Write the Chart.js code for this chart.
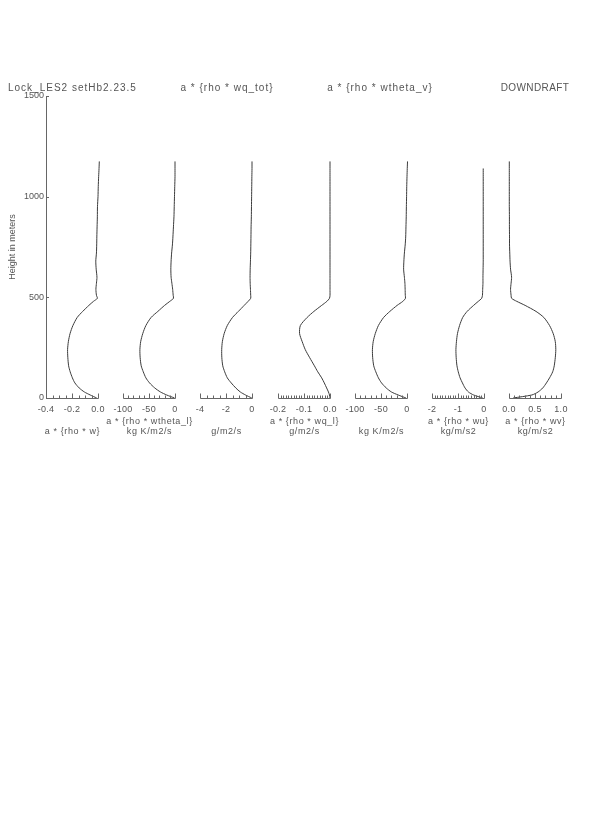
<!DOCTYPE html>
<html>
<head>
<meta charset="utf-8">
<script src="https://cdn.jsdelivr.net/npm/chart.js@4.4.1/dist/chart.umd.min.js"></script>
<style>
  html, body { margin: 0; padding: 0; background: #fff; }
</style>
</head>
<body>
<canvas id="profiles" width="595" height="833"></canvas>
<script>
// heights (m) shared by every profile
const heights = [0, 15, 30, 50, 75, 100, 130, 160, 200, 240, 280, 320, 360, 400, 430, 460, 480, 495,
  510, 540, 570, 600, 640, 680, 720, 760, 800, 850, 900, 950, 1000, 1050, 1100, 1140, 1175];

// downdraft flux profiles
const rhoW = [-0.010, -0.060, -0.105, -0.145, -0.178, -0.197, -0.214, -0.226, -0.232, -0.234, -0.228, -0.215,
  -0.193, -0.160, -0.118, -0.070, -0.035, -0.005, -0.012, -0.016, -0.012, -0.008, -0.014, -0.017, -0.012,
  -0.010, -0.009, -0.007, -0.005, -0.004, 0.000, 0.002, 0.005, 0.008, 0.010];
const rhoWthetaL = [-1, -16, -28, -39, -49, -56, -61, -65, -67, -67.5, -66, -62, -56, -46, -33, -20, -10, -3,
  -3.5, -4.5, -6, -7.5, -8, -7.5, -6.5, -5, -4, -3, -2, -1.5, -1, -0.5, 0, 0, 0];
const rhoWqTot = [-0.02, -0.5, -0.9, -1.25, -1.6, -1.9, -2.1, -2.25, -2.32, -2.33, -2.28, -2.14, -1.9, -1.5,
  -1.05, -0.6, -0.3, -0.1, -0.1, -0.12, -0.14, -0.15, -0.14, -0.12, -0.1, -0.09, -0.08, -0.07, -0.05, -0.04,
  -0.03, -0.02, -0.01, 0, 0];
const rhoWqL = [0, -0.002, -0.006, -0.013, -0.022, -0.032, -0.047, -0.060, -0.078, -0.095, -0.107, -0.117,
  -0.114, -0.088, -0.062, -0.032, -0.012, -0.002, 0, 0, 0, 0, 0, 0, 0, 0, 0, 0, 0, 0, 0, 0, 0, 0, 0];
const rhoWthetaV = [-2, -17, -30, -40, -49, -55, -60, -64, -66, -66.5, -65, -61, -55, -45, -33, -19, -8, -3,
  -3.3, -3.6, -4, -5, -6.5, -6, -5, -3.5, -2.5, -2, -1.5, -1.2, -0.8, -0.5, 0, 0.5, 1];
const rhoWu = [-0.05, -0.40, -0.60, -0.73, -0.83, -0.92, -0.99, -1.04, -1.07, -1.08, -1.06, -1.02, -0.94,
  -0.82, -0.65, -0.40, -0.22, -0.09, -0.06, -0.05, -0.04, -0.04, -0.035, -0.03, -0.03, -0.03, -0.03, -0.03,
  -0.03, -0.03, -0.03, -0.03, -0.03, -0.03, null];
const rhoWv = [0.08, 0.44, 0.56, 0.65, 0.72, 0.78, 0.84, 0.87, 0.89, 0.90, 0.89, 0.85, 0.78, 0.67, 0.52,
  0.31, 0.15, 0.05, 0.04, 0.03, 0.04, 0.05, 0.03, 0.02, 0.015, 0.01, 0.01, 0.008, 0.008, 0.006, 0.006,
  0.006, 0.006, 0.006, 0.006];

// x tick values / labels for each panel
const ticksW = [-0.4, -0.2, 0.0];
const ticksWthetaL = [-100, -50, 0];
const ticksWqTot = [-4, -2, 0];
const ticksWqL = [-0.2, -0.1, 0.0];
const ticksWthetaV = [-100, -50, 0];
const ticksWu = [-2, -1, 0];
const ticksWv = [0.0, 0.5, 1.0];
const labelsW = ['-0.4', '-0.2', '0.0'];
const labelsWthetaL = ['-100', '-50', '0'];
const labelsWqTot = ['-4', '-2', '0'];
const labelsWqL = ['-0.2', '-0.1', '0.0'];
const labelsWthetaV = ['-100', '-50', '0'];
const labelsWu = ['-2', '-1', '0'];
const labelsWv = ['0.0', '0.5', '1.0'];
const yTicks = [0, 500, 1000, 1500];

const panels = [
  { values: rhoW, ticks: ticksW, labels: labelsW, minor: 0.05, caption: ['', 'a * {rho * w}'] },
  { values: rhoWthetaL, ticks: ticksWthetaL, labels: labelsWthetaL, minor: 10, caption: ['a * {rho * wtheta_l}', 'kg K/m2/s'] },
  { values: rhoWqTot, ticks: ticksWqTot, labels: labelsWqTot, minor: 0.5, caption: ['', 'g/m2/s'] },
  { values: rhoWqL, ticks: ticksWqL, labels: labelsWqL, minor: 0.01, caption: ['a * {rho * wq_l}', 'g/m2/s'] },
  { values: rhoWthetaV, ticks: ticksWthetaV, labels: labelsWthetaV, minor: 10, caption: ['', 'kg K/m2/s'] },
  { values: rhoWu, ticks: ticksWu, labels: labelsWu, minor: 0.1, caption: ['a * {rho * wu}', 'kg/m/s2'] },
  { values: rhoWv, ticks: ticksWv, labels: labelsWv, minor: 0.1, caption: ['a * {rho * wv}', 'kg/m/s2'] }
];

// layout (px, relative to the plot area)
const areaWidth = 515;
const panelWidth = 52;
const panelPitch = 77.2;
const lineColor = '#3a3a3a';
const axisColor = '#666';
const textColor = '#555';
const fontFamily = '"Liberation Sans", Arial, sans-serif';

const scales = {
  y: {
    type: 'linear', position: 'left', min: 0, max: 1500,
    afterFit: s => { s.width = 46; },
    afterBuildTicks: s => { s.ticks = yTicks.map(v => ({ value: v })); },
    ticks: { color: textColor, font: { family: fontFamily, size: 9 }, padding: 2, callback: v => String(v) },
    grid: { display: false, drawTicks: false, tickLength: 0 },
    border: { display: true, color: axisColor, width: 1 },
    title: { display: true, text: 'Height in meters', color: textColor,
      font: { family: fontFamily, size: 9 }, padding: { top: 7, bottom: 0 } }
  }
};

panels.forEach((p, i) => {
  const a = p.ticks[0], b = p.ticks[p.ticks.length - 1];
  const per = (b - a) / panelWidth;
  const off = Math.round(i * panelPitch);
  scales['x' + i] = {
    type: 'linear', position: 'bottom', display: false,
    min: a - off * per,
    max: b + (areaWidth - off - panelWidth) * per
  };
});

const datasets = panels.map((p, i) => ({
  xAxisID: 'x' + i,
  yAxisID: 'y',
  data: heights.map((h, j) => ({ x: p.values[j], y: h })).filter(d => d.x !== null),
  borderColor: lineColor,
  borderWidth: 1,
  pointRadius: 0,
  tension: 0.25,
  fill: false
}));

const panelAxes = {
  id: 'panelAxes',
  afterDatasetsDraw(chart) {
    const ctx = chart.ctx;
    const area = chart.chartArea;
    const base = Math.round(area.bottom) + 0.5;
    ctx.save();
    ctx.strokeStyle = axisColor;
    ctx.fillStyle = textColor;
    ctx.lineWidth = 1;

    // small inward ticks on the height axis
    const ys = chart.scales.y;
    yTicks.forEach(v => {
      const py = Math.round(ys.getPixelForValue(v)) + 0.5;
      ctx.beginPath();
      ctx.moveTo(area.left, py);
      ctx.lineTo(area.left + 3, py);
      ctx.stroke();
    });

    panels.forEach((p, i) => {
      const sc = chart.scales['x' + i];
      const a = p.ticks[0], b = p.ticks[p.ticks.length - 1];
      const x0 = Math.round(sc.getPixelForValue(a)) + 0.5;
      const x1 = Math.round(sc.getPixelForValue(b)) + 0.5;
      ctx.beginPath();
      ctx.moveTo(x0, base);
      ctx.lineTo(x1, base);
      const n = Math.round((b - a) / p.minor);
      for (let j = 0; j <= n; j++) {
        const v = a + j * p.minor;
        const major = p.ticks.some(t => Math.abs(t - v) < p.minor / 10);
        const px = Math.round(sc.getPixelForValue(v)) + 0.5;
        ctx.moveTo(px, base);
        ctx.lineTo(px, base - (major ? 5 : 3));
      }
      ctx.stroke();

      ctx.font = '9px ' + fontFamily;
      ctx.textAlign = 'center';
      ctx.textBaseline = 'middle';
      ctx.letterSpacing = '0.3px';
      p.ticks.forEach((t, k) => {
        ctx.fillText(p.labels[k], sc.getPixelForValue(t), base + 11);
      });
      ctx.letterSpacing = '0.6px';
      const cx = (x0 + x1) / 2;
      if (p.caption[0]) ctx.fillText(p.caption[0], cx, base + 23);
      if (p.caption[1]) ctx.fillText(p.caption[1], cx, base + 33);
    });

    // header line
    ctx.font = '10px ' + fontFamily;
    ctx.letterSpacing = '1px';
    ctx.textBaseline = 'middle';
    ctx.textAlign = 'left';
    ctx.fillText('Lock_LES2 setHb2.23.5', 8, 88);
    ctx.textAlign = 'center';
    ctx.fillText('a * {rho * wq_tot}', 227, 88);
    ctx.fillText('a * {rho * wtheta_v}', 380, 88);
    ctx.letterSpacing = '0.4px';
    ctx.fillText('DOWNDRAFT', 535, 88);
    ctx.restore();
  }
};

new Chart(document.getElementById('profiles').getContext('2d'), {
  type: 'line',
  data: { datasets },
  options: {
    responsive: false,
    animation: false,
    indexAxis: 'y',
    layout: { padding: { top: 96, bottom: 435, left: 0, right: 34 } },
    plugins: { legend: { display: false }, tooltip: { enabled: false }, title: { display: false } },
    scales
  },
  plugins: [panelAxes]
});
</script>
</body>
</html>
